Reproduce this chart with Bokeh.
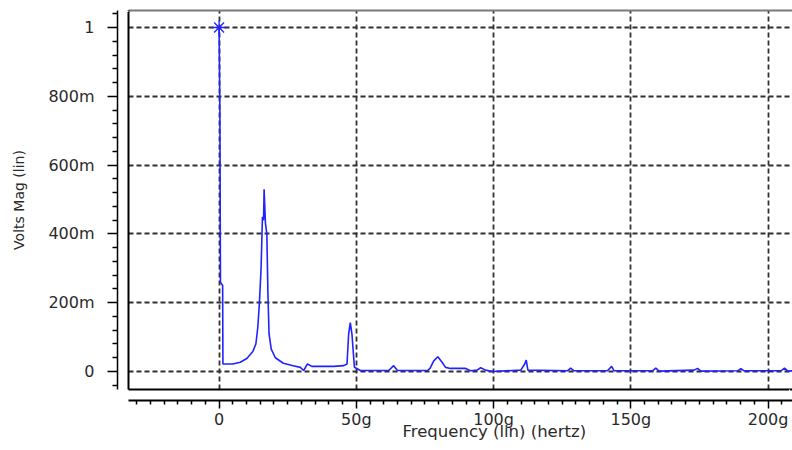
from bokeh.plotting import figure
from bokeh.models import Range1d, LinearAxis, FixedTicker, Title
from bokeh.embed import file_html
from bokeh.resources import INLINE

# ---- data ----
freq = [0.0, 0.3, 0.5, 1.3, 1.4, 5.0, 7.7, 10.1, 12.3, 13.4, 14.1, 14.7, 15.3, 15.8,
        16.2, 16.4, 16.9, 17.4, 17.8, 18.2, 19.0, 20.5, 23.4, 27.0, 29.6, 30.8, 32.2,
        33.8, 41.7, 45.4, 46.6, 47.2, 47.8, 48.4, 49.3, 51.5, 61.8, 63.6, 65.0, 76.0,
        76.9, 78.2, 79.7, 81.3, 82.5, 84.3, 89.8, 91.6, 94.0, 95.3, 97.1, 99.5, 109.9,
        111.3, 111.9, 112.5, 126.9, 128.1, 129.3, 141.5, 143.0, 143.9, 157.9, 159.1,
        160.3, 173.1, 174.3, 175.5, 188.9, 190.1, 191.3, 204.7, 206.0, 207.2, 209.0]
mag = [1.0, 0.75, 0.26, 0.25, 0.022, 0.022, 0.027, 0.038, 0.058, 0.08, 0.128, 0.2, 0.3, 0.45,
       0.44, 0.53, 0.43, 0.40, 0.224, 0.11, 0.065, 0.04, 0.024, 0.017, 0.012, 0.003, 0.022,
       0.015, 0.015, 0.017, 0.022, 0.109, 0.142, 0.109, 0.0125, 0.003, 0.003, 0.017, 0.003, 0.003,
       0.01, 0.031, 0.043, 0.026, 0.012, 0.009, 0.009, 0.002, 0.004, 0.011, 0.004, 0.0, 0.004,
       0.021, 0.033, 0.004, 0.002, 0.01, 0.002, 0.002, 0.015, 0.002, 0.002, 0.01,
       0.001, 0.004, 0.009, 0.001, 0.002, 0.008, 0.002, 0.002, 0.01, 0.001, 0.002]

marker_freq = [0.0]
marker_mag = [1.0]

x_major = [0, 50, 100, 150, 200]
x_labels = ["0", "50g", "100g", "150g", "200g"]
x_minor = [-30, -25, -20, -15, -10, -5, 5, 10, 15, 20, 25, 30, 35, 40, 45, 55, 60, 65, 70,
           75, 80, 85, 90, 95, 105, 110, 115, 120, 125, 130, 135, 140, 145, 155, 160, 165,
           170, 175, 180, 185, 190, 195, 205]
y_major = [0, 0.2, 0.4, 0.6, 0.8, 1.0]
y_labels = ["0", "200m", "400m", "600m", "800m", "1"]
y_minor = [-0.04, 0.04, 0.08, 0.12, 0.16, 0.24, 0.28, 0.32, 0.36, 0.44, 0.48, 0.52, 0.56,
           0.64, 0.68, 0.72, 0.76, 0.84, 0.88, 0.92, 0.96, 1.04]

x_title = "Frequency (lin) (hertz)"
y_title = "Volts Mag (lin)"

X_START, X_END = -33.0, 208.9
Y_START, Y_END = -0.0523, 1.0494

FONT = "DejaVu Sans"
TXT = "#2a2a2a"
GRID = "#303030"
LINE = "#2222ff"

p = figure(width=792, height=448,
           x_range=Range1d(X_START, X_END), y_range=Range1d(Y_START, Y_END),
           output_backend="svg", toolbar_location=None,
           min_border_left=128, min_border_right=0, min_border_top=10, min_border_bottom=59)
p.outline_line_color = None
p.background_fill_color = "white"
p.border_fill_color = "white"


def make_border(ax, color, out, hidden_tick):
    # an axis with one invisible (white) tick: it only draws the frame border
    # and keeps a small gap between the frame and the real axis
    ax.ticker = FixedTicker(ticks=[hidden_tick])
    ax.major_label_overrides = {hidden_tick: " "}
    ax.major_tick_out = out
    ax.major_tick_in = 0
    ax.minor_tick_out = 0
    ax.minor_tick_in = 0
    ax.major_tick_line_color = "white"
    ax.major_tick_line_width = 1
    ax.major_label_standoff = 0
    ax.major_label_text_font_size = "1px"
    ax.axis_line_color = color
    ax.axis_line_width = 2
    ax.axis_label = None


make_border(p.xaxis[0], "black", 7, X_END - 1)
make_border(p.yaxis[0], "black", 8, Y_END - 0.002)
top = LinearAxis()
make_border(top, "#7a7a7a", 0, X_END - 1)
top.major_tick_line_color = None
p.add_layout(top, "above")

# grids
p.xgrid.ticker = FixedTicker(ticks=x_major)
p.ygrid.ticker = FixedTicker(ticks=y_major)
for g in (p.xgrid, p.ygrid):
    g.grid_line_color = GRID
    g.grid_line_dash = "5 3"
    g.grid_line_width = 1.8

# real axes
xa = LinearAxis(ticker=FixedTicker(ticks=x_major, minor_ticks=x_minor))
xa.major_label_overrides = dict(zip(x_major, x_labels))
xa.major_tick_out = 8
xa.major_tick_in = 0
xa.minor_tick_out = 4
xa.minor_tick_in = 0
xa.axis_line_width = 2
xa.major_tick_line_width = 1.5
xa.minor_tick_line_width = 1.5
xa.major_label_standoff = 1
xa.major_label_text_font = FONT
xa.major_label_text_font_size = "16px"
xa.major_label_text_color = TXT
p.add_layout(xa, "below")

ya = LinearAxis(ticker=FixedTicker(ticks=y_major, minor_ticks=y_minor))
ya.major_label_overrides = dict(zip(y_major, y_labels))
ya.major_tick_out = 10
ya.major_tick_in = 0
ya.minor_tick_out = 5
ya.minor_tick_in = 0
ya.axis_line_width = 1.5
ya.major_tick_line_width = 1.5
ya.minor_tick_line_width = 1.5
ya.major_label_standoff = 13
ya.major_label_text_font = FONT
ya.major_label_text_font_size = "16px"
ya.major_label_text_color = TXT
ya.axis_label = y_title
ya.axis_label_text_font = FONT
ya.axis_label_text_font_size = "14px"
ya.axis_label_text_font_style = "normal"
ya.axis_label_text_color = TXT
ya.axis_label_standoff = 18
p.add_layout(ya, "left")

# x-axis title: left-aligned with an offset from the frame's left edge, as in the reference
t = Title(text=x_title, align="left", offset=274, standoff=-20, vertical_align="top",
          text_font=FONT, text_font_size="16.5px", text_font_style="normal", text_color=TXT)
p.add_layout(t, "below")

p.line(freq, mag, line_color=LINE, line_width=1.6)
p.scatter(marker_freq, marker_mag, marker="asterisk", size=14, line_color=LINE, line_width=1.3)

open("out.html", "w").write(file_html(p, INLINE))
